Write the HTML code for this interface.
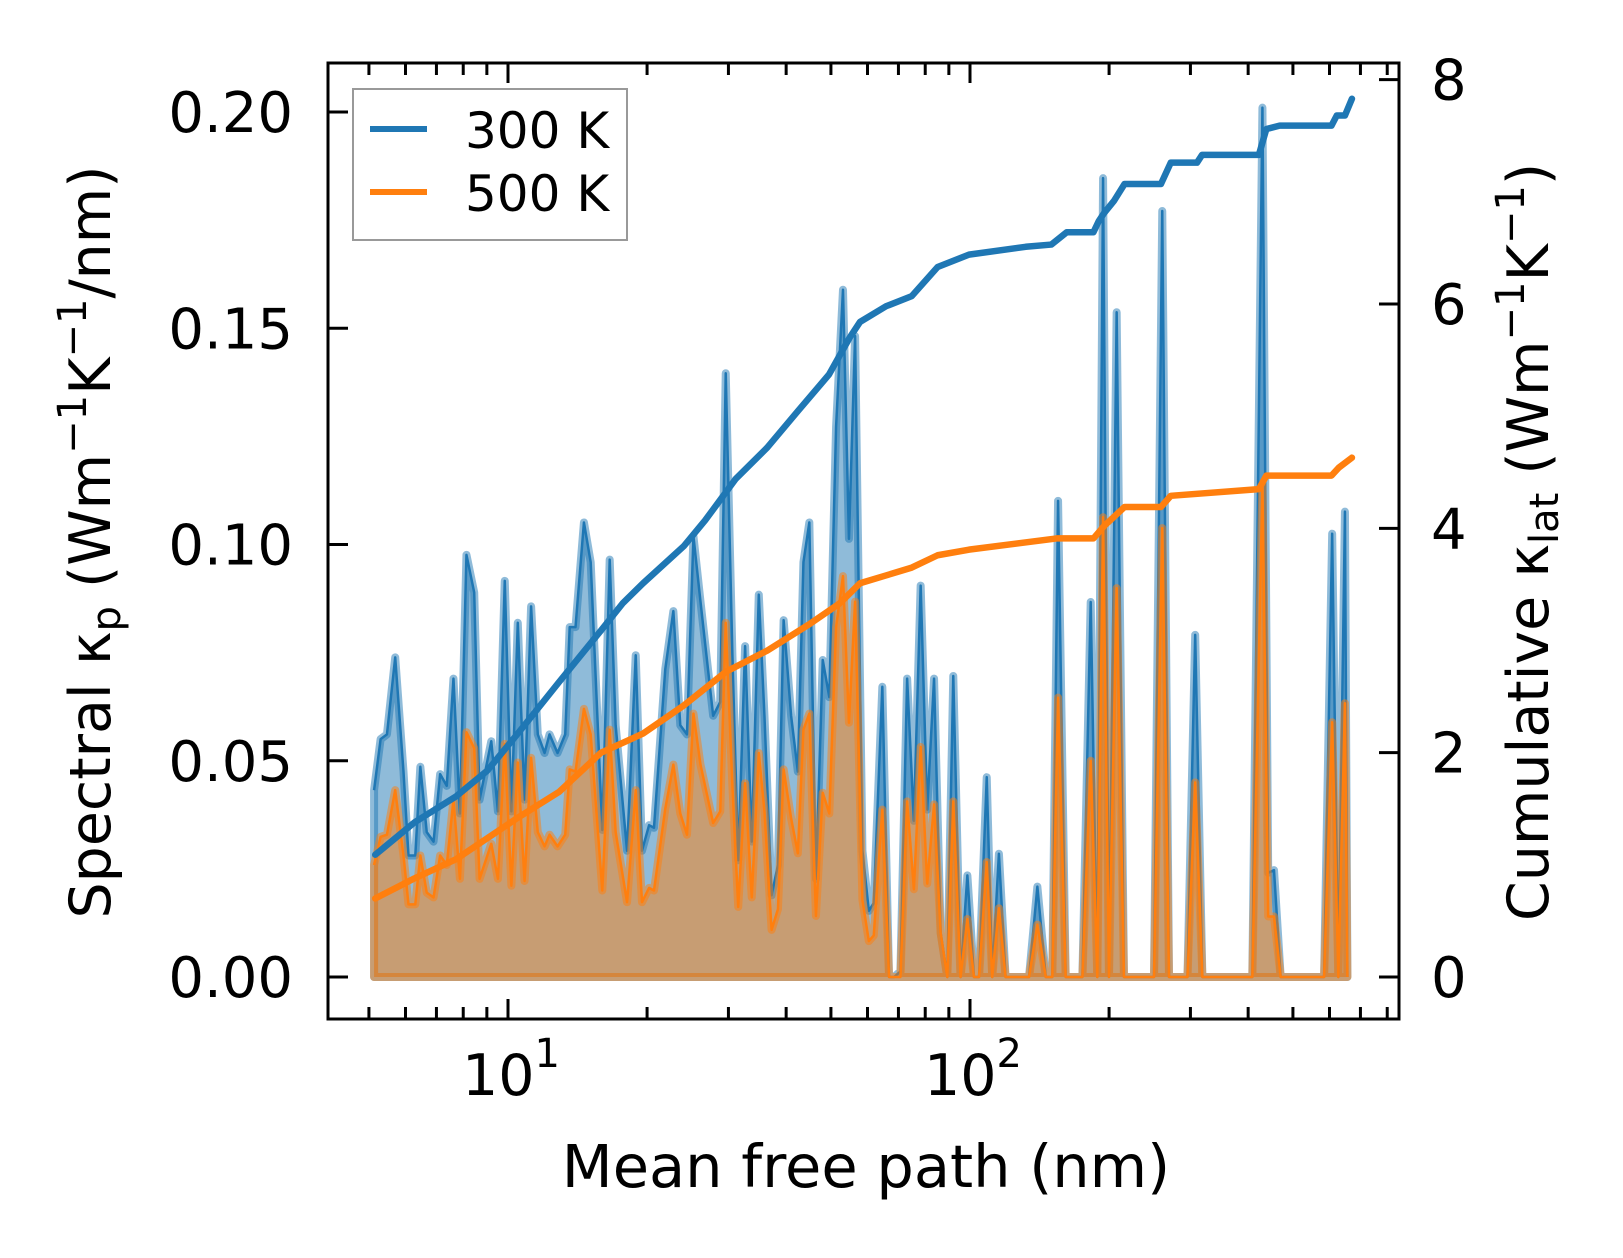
<!DOCTYPE html>
<html><head><meta charset="utf-8"><title>Mean free path spectrum</title>
<style>
html,body{margin:0;padding:0;background:#fff;}
svg{display:block;font-family:"DejaVu Sans","Liberation Sans",sans-serif;}
</style></head>
<body>
<svg id="chart" width="1623" height="1258" viewBox="0 0 1623 1258" xmlns="http://www.w3.org/2000/svg">
<rect width="1623" height="1258" fill="#fff"/>
<g id="plot"></g>
</svg>
<script>
// spectral data
const mfp = [5.13,5.30,5.47,5.70,5.94,6.09,6.30,6.46,6.67,6.90,7.13,7.37,7.62,7.87,8.13,8.45,8.68,9.20,9.51,9.84,10.17,10.50,10.86,11.22,11.60,12.0,12.3,12.8,13.3,13.6,14.0,14.6,15.1,16.0,16.6,17.1,18.1,18.9,19.5,20.2,20.7,21.9,22.8,23.6,24.4,25.2,26.1,27.8,28.8,29.6,30.6,31.5,32.6,33.7,34.9,35.9,37.2,38.4,39.5,41.0,42.4,43.6,44.9,46.4,48.0,49.6,51.3,53.1,54.7,56.4,58.5,60.4,61.9,64.6,66.8,68.5,70.7,73.1,75.6,78.2,80.8,83.6,86.4,89.3,92.0,95.4,98.7,102.0,104.6,108.7,111.7,115.5,119.4,134.2,139.9,145.9,150.7,155.1,161.1,175.1,182.5,188.6,194.1,199.9,207.7,215.4,250.2,260.7,269.6,295.6,307.2,318.4,408.4,429.5,442,455,470.4,584,608,627,648,656];
const kp300 = [.0432,.0550,.0561,.0739,.0475,.0281,.0281,.0486,.0335,.0313,.0469,.0442,.0690,.0378,.0976,.0889,.0410,.0545,.0383,.0916,.0383,.0819,.0410,.0857,.0561,.0518,.0561,.0518,.0561,.0809,.0809,.1051,.0959,.0340,.0965,.0582,.0292,.0744,.0292,.0351,.0345,.0712,.0846,.0582,.0561,.1019,.0868,.0604,.0636,.1396,.0744,.0270,.0765,.0313,.0884,.0604,.0189,.0259,.0825,.0604,.0475,.0959,.1051,.0227,.0733,.0647,.1272,.1589,.1013,.1482,.0292,.0153,.0171,.0671,0,0,.0013,.0690,.0361,.0905,.0387,.0690,.0102,0,.0696,0,.0235,0,0,.0462,0,.0285,0,0,.0209,0,0,.1101,0,0,.0867,0,.1847,0,.1537,0,0,.1771,0,0,.0791,0,0,.201,.0241,.0247,0,0,.1025,0,.1076,0];
const kp500 = [.0259,.0324,.0329,.0432,.0281,.0168,.0168,.0281,.0195,.0184,.0281,.0259,.0410,.0227,.0566,.0529,.0227,.0308,.0227,.0539,.0211,.0496,.0222,.0507,.0335,.0302,.0329,.0302,.0329,.0480,.0475,.0620,.0561,.0200,.0572,.0335,.0173,.0432,.0173,.0206,.0200,.0389,.0491,.0378,.0329,.0609,.0491,.0356,.0383,.0819,.0442,.0162,.0448,.0184,.0518,.0383,.0109,.0157,.0480,.0367,.0286,.0572,.0609,.0141,.0426,.0378,.0809,.0927,.0588,.0868,.0178,.0083,.0096,.0387,0,0,0,.0406,.0203,.0532,.0216,.0399,.0102,0,.0406,0,.0134,0,0,.0266,0,.0159,0,0,.0121,0,0,.0646,0,0,.0500,0,.1063,0,.0899,0,0,.1038,0,0,.0450,0,0,.1139,.0140,.0140,0,0,.0589,0,.0633,0];
// cumulative data
const cumMfp300 = [5.16,6.28,7.72,9.02,10.5,12.9,15.9,17.7,19.6,24.0,26.7,31.1,36.4,42.5,49.5,54.9,57.8,65.8,74.8,85.1,99.5,132,150,162,185,190,195,205,216,259,272,310,318,422,438,468,606,622,648,671];
const cum300 = [1.09,1.38,1.61,1.84,2.17,2.63,3.09,3.33,3.51,3.84,4.07,4.44,4.72,5.05,5.37,5.70,5.84,5.98,6.07,6.33,6.44,6.51,6.53,6.64,6.64,6.74,6.81,6.92,7.07,7.07,7.26,7.26,7.33,7.33,7.56,7.59,7.59,7.68,7.68,7.83];
const cumMfp500 = [5.16,6.28,7.72,10.5,12.9,15.9,19.6,24.0,29.6,36.4,44.7,52.2,57.8,65.8,74.8,85.1,99.5,154,185,195,216,259,272,422,438,606,628,671];
const cum500 = [0.70,0.88,1.05,1.42,1.65,2.00,2.17,2.42,2.72,2.91,3.14,3.33,3.51,3.58,3.65,3.76,3.81,3.91,3.91,4.02,4.19,4.19,4.29,4.35,4.47,4.47,4.54,4.63];
const leftTicks = [0,0.05,0.10,0.15,0.20];
const leftTickLabels = ["0.00","0.05","0.10","0.15","0.20"];
const rightTicks = [0,2,4,6,8];
const xMajor = [1,2];

const NS = "http://www.w3.org/2000/svg";
const L=328, R=1399, T=63, B=1019;
const X = m => 508 + 462*(Math.log10(m)-1);
const YL = v => 977 - v*(977-112)/0.20;
const YR = v => 977 - v*(977-304)/6;
const g = document.getElementById('plot');
function el(tag, attrs, parent){ const e=document.createElementNS(NS,tag); for(const k in attrs) e.setAttribute(k,attrs[k]); (parent||g).appendChild(e); return e; }

const defs = el('defs',{});
const cp = el('clipPath',{id:'clip'},defs);
el('rect',{x:L,y:T,width:R-L,height:B-T},cp);
const area = el('g',{'clip-path':'url(#clip)'});

function spectral(vals, color, name){
  let d = `M${X(mfp[0])},${YL(0)}`;
  let line = '';
  vals.forEach((v,i)=>{ d += ` L${X(mfp[i])},${YL(v)}`; line += (i?' L':'M')+X(mfp[i])+','+YL(v); });
  d += ` L${X(mfp[mfp.length-1])},${YL(0)} Z`;
  const f = el('path',{d:d,fill:color,'fill-opacity':0.5,stroke:color,'stroke-opacity':0.5,'stroke-width':8,'stroke-linejoin':'round'},area);
  
  
  const l = el('path',{d:line,fill:'none',stroke:color,'stroke-width':2.5,'stroke-linejoin':'round'},area);
  
  
}
spectral(kp300,'#1f77b4','spectral-300k');
spectral(kp500,'#ff7f0e','spectral-500k');

function cumLine(xs, ys, color, name){
  const d = xs.map((m,i)=>(i?'L':'M')+X(m)+','+YR(ys[i])).join(' ');
  const p = el('path',{d:d,fill:'none',stroke:color,'stroke-width':6.5,'stroke-linejoin':'round','stroke-linecap':'round'},area);
  
  
}
cumLine(cumMfp300,cum300,'#1f77b4','cumulative-300k');
cumLine(cumMfp500,cum500,'#ff7f0e','cumulative-500k');

const frame = el('rect',{x:L,y:T,width:R-L,height:B-T,fill:'none',stroke:'#000','stroke-width':3});



for(let dec=0; dec<=2; dec++){
  for(let k=1;k<=9;k++){
    const m = k*Math.pow(10,dec);
    const x = X(m);
    if(x<L+2||x>R-2) continue;
    const len = k===1?20:12;
    el('line',{x1:x,y1:B,x2:x,y2:B-len,stroke:'#000','stroke-width':3});
    el('line',{x1:x,y1:T,x2:x,y2:T+len,stroke:'#000','stroke-width':3});
  }
}
xMajor.forEach(p=>{
  const t = el('text',{x:X(Math.pow(10,p))+3,y:1095,'font-size':57,'text-anchor':'middle'});
  
  
  t.textContent='10';
  const s = el('tspan',{dy:-28,'font-size':40},t); s.textContent=String(p);
});
leftTicks.forEach((v,i)=>{
  el('line',{x1:L,y1:YL(v),x2:L+20,y2:YL(v),stroke:'#000','stroke-width':3});
  const t = el('text',{x:293,y:YL(v)+20,'font-size':56,'text-anchor':'end'});
  
  
  t.textContent = leftTickLabels[i];
});
rightTicks.forEach(v=>{
  el('line',{x1:R,y1:YR(v),x2:R-20,y2:YR(v),stroke:'#000','stroke-width':3});
  const t = el('text',{x:1431,y:YR(v)+20,'font-size':56});
  
  
  t.textContent = String(v);
});
</script>
<script>
(function(){
const svg=document.getElementById('chart');
svg.insertAdjacentHTML('beforeend', `
<text x="866" y="1187" font-size="59" text-anchor="middle">Mean free path (nm)</text>
<text transform="translate(110,542) rotate(-90)" font-size="57" text-anchor="middle">Spectral κ<tspan font-size="40" dy="10">p</tspan><tspan dy="-10"> (Wm</tspan><tspan font-size="40" dy="-24">−1</tspan><tspan dy="24">K</tspan><tspan font-size="40" dy="-24">−1</tspan><tspan dy="24">/nm)</tspan></text>
<text transform="translate(1548,542) rotate(-90)" font-size="57" text-anchor="middle">Cumulative κ<tspan font-size="40" dy="10">lat</tspan><tspan dy="-10"> (Wm</tspan><tspan font-size="40" dy="-24">−1</tspan><tspan dy="24">K</tspan><tspan font-size="40" dy="-24">−1</tspan><tspan dy="24">)</tspan></text>
<g>
<rect x="353" y="89" width="274" height="151" fill="#fff" fill-opacity="0.8" stroke="#999" stroke-width="2"/>
<line x1="370" y1="129" x2="427" y2="129" stroke="#1f77b4" stroke-width="6"/>
<text x="465" y="148" font-size="50">300 K</text>
<line x1="370" y1="192" x2="427" y2="192" stroke="#ff7f0e" stroke-width="6"/>
<text x="465" y="211" font-size="50">500 K</text>
</g>`);
})();
</script>
</body></html>
